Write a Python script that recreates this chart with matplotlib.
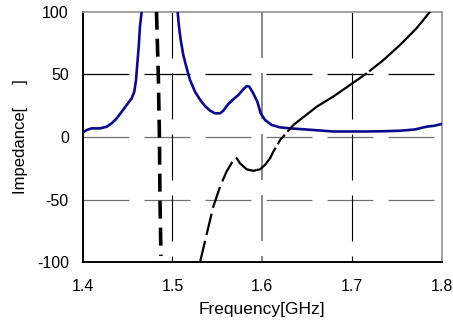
import matplotlib
matplotlib.use("Agg")
import matplotlib.pyplot as plt
import numpy as np

plt.rcParams['font.family'] = ['Liberation Sans', 'DejaVu Sans']
plt.rcParams['lines.scale_dashes'] = False

# Blue curve
blue_f = [1.400, 1.4045, 1.410, 1.4193, 1.4267, 1.4323, 1.4379, 1.4435, 1.449,
          1.4546, 1.4575, 1.4594, 1.4609, 1.4624, 1.4638, 1.4657, 1.4670,
          1.5045, 1.5058, 1.5073, 1.5092, 1.5121, 1.5159, 1.5196, 1.5251, 1.531,
          1.5363, 1.542, 1.5474, 1.553, 1.5567, 1.5622, 1.5678, 1.5734, 1.579,
          1.5828, 1.5856, 1.590, 1.5946, 1.5983, 1.6031, 1.6105, 1.6198, 1.6309,
          1.645, 1.668, 1.679, 1.700, 1.716, 1.735, 1.7535, 1.770, 1.783, 1.792,
          1.800]
blue_z = [3.7, 5.6, 6.9, 6.9, 8.2, 10.9, 14.9, 20.2, 25.5,
          30.9, 36.2, 45.5, 58.8, 72.1, 88.0, 100.0, 110.0,
          110.0, 100.0, 88.0, 77.4, 65.4, 54.8, 45.5, 36.2, 29.5,
          24.7, 21.0, 18.9, 18.9, 21.0, 26.3, 30.1, 33.5, 38.1,
          40.7, 40.2, 34.9, 28.2, 18.9, 13.6, 9.6, 7.7, 6.9,
          6.2, 5.0, 4.4, 4.4, 4.4, 4.6, 5.0, 6.0, 8.2, 9.0,
          10.4]

# Black curve, first branch (near-vertical)
black1_f = [1.4822, 1.4843, 1.4855, 1.4861, 1.4867, 1.4872]
black1_z = [100.0, 48.0, 0.0, -50.0, -75.0, -95.0]

# Black curve, second branch
black2_f = [1.5307, 1.538, 1.5455, 1.553, 1.560, 1.5679, 1.5716, 1.5753, 1.5827,
            1.590, 1.5976, 1.6031, 1.6087, 1.6124, 1.620, 1.6347, 1.6608, 1.679,
            1.6978, 1.7164, 1.735, 1.7535, 1.772, 1.787, 1.795]
black2_z = [-100.0, -78.0, -55.6, -39.7, -28.0, -18.4, -17.0, -21.0, -25.8,
            -27.0, -25.8, -22.3, -17.0, -11.7, -2.4, 9.6, 24.2, 32.2,
            41.5, 50.8, 61.4, 73.4, 86.8, 100.0, 108.0]

xticks = [1.4, 1.5, 1.6, 1.7, 1.8]
yticks = [-100, -50, 0, 50, 100]
yticklabels = ['-100', '-50', '0', '50', '100']

W, H = 453, 329
fig = plt.figure(figsize=(W / 100, H / 100), dpi=100)
ax = fig.add_axes([82.7 / W, 1 - 262.3 / H, (441.7 - 82.7) / W, (262.3 - 11.7) / H])
ax.set_xlim(1.4, 1.8)
ax.set_ylim(-100, 100)

px = 0.72  # points per pixel at dpi 100
# grid (dashed, long dashes)
hcol = {50: '#000000', 0: '#707070', -50: '#707070'}
for yv in [50, 0, -50]:
    ax.plot([1.4, 1.8], [yv, yv], color=hcol[yv], lw=0.9,
            dashes=(46 * px, 15 * px), zorder=1)
vcol = {1.5: '#000000', 1.6: '#808080', 1.7: '#000000'}
vlw = {1.5: 0.8, 1.6: 1.3, 1.7: 0.8}
for xv in [1.5, 1.6, 1.7]:
    ax.plot([xv, xv], [100, -100], color=vcol[xv], lw=vlw[xv],
            dashes=(46 * px, 15 * px), zorder=1)

# data
ax.plot(blue_f, blue_z, color='#0a0a8a', lw=1.9, zorder=3,
        solid_capstyle='round', solid_joinstyle='round')
ax.plot(black1_f, black1_z, color='black', lw=2.6, dashes=(18 * px, 9 * px), zorder=4)

bf = np.array(black2_f)
bz = np.array(black2_z)
m1 = bf <= 1.5716
m2 = (bf >= 1.5716) & (bf <= 1.6087)
m3 = (bf >= 1.6087) & (bf <= 1.6347)
m4 = bf >= 1.6347
ax.plot(bf[m1], bz[m1], color='black', lw=1.6, dashes=(22 * px, 6 * px), zorder=4)
ax.plot(bf[m2], bz[m2], color='black', lw=1.6, zorder=4, solid_joinstyle='round')
ax.plot(bf[m3], bz[m3], color='black', lw=1.6, dashes=(12 * px, 4 * px), zorder=4)
ax.plot(bf[m4], bz[m4], color='black', lw=1.6, dashes=(90 * px, 3 * px), zorder=4)

ax.set_xticks(xticks)
ax.set_xticklabels([f'{v:.1f}' for v in xticks])
ax.set_yticks(yticks)
ax.set_yticklabels(yticklabels)
ax.tick_params(axis='both', length=0, labelsize=11.5)
ax.tick_params(axis='y', pad=10)
ax.tick_params(axis='x', pad=12)

for s in ['left', 'bottom']:
    ax.spines[s].set_color('black')
    ax.spines[s].set_linewidth(1.4)
for s in ['top', 'right']:
    ax.spines[s].set_color('#909090')
    ax.spines[s].set_linewidth(1.2)

ax.set_xlabel('Frequency[GHz]', fontsize=12.5, labelpad=6)
ax.set_ylabel('Impedance[     ]', fontsize=12, labelpad=6)

fig.savefig('out.png', dpi=100)
